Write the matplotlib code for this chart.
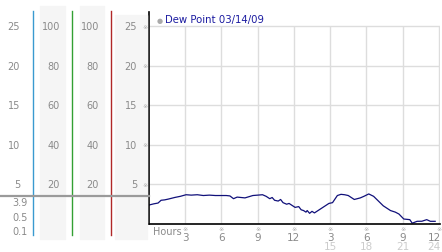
import matplotlib
matplotlib.use("Agg")
import matplotlib.pyplot as plt
import matplotlib.transforms as mtransforms
from matplotlib.patches import Rectangle

plt.rcParams["font.family"] = ["DejaVu Sans", "Noto Sans CJK JP"]

# Dew point readings (hour of day, value)
hours = [0.0, 0.4, 0.75, 1.0, 1.3, 1.6, 2.15, 2.6, 3.07, 3.5, 4.0, 4.5, 5.0, 5.5,
         6.0, 6.4, 6.7, 7.0, 7.3, 7.95, 8.6, 9.0, 9.4, 9.7, 10.0, 10.2, 10.4,
         10.7, 10.9, 11.1, 11.4, 11.6, 11.9, 12.1, 12.4, 12.6, 12.8, 13.0,
         13.1, 13.3, 13.5, 13.7, 13.9, 14.2, 14.6, 14.9, 15.2, 15.6, 15.9,
         16.2, 16.5, 17.0, 17.5, 17.8, 18.2, 18.6, 19.0, 19.4, 20.0, 20.4,
         20.7, 21.1, 21.6, 21.8, 22.2, 22.6, 23.0, 23.3, 23.7]
dew_point = [2.4, 2.55, 2.65, 3.0, 3.05, 3.15, 3.36, 3.5, 3.7, 3.65, 3.7, 3.6,
             3.65, 3.6, 3.6, 3.6, 3.55, 3.2, 3.4, 3.3, 3.6, 3.65, 3.7, 3.5,
             3.2, 3.35, 3.0, 2.9, 3.1, 2.7, 2.5, 2.6, 2.3, 2.1, 2.2, 1.8, 1.7,
             1.5, 1.7, 1.35, 1.6, 1.4, 1.6, 1.9, 2.3, 2.6, 2.7, 3.6, 3.75, 3.7,
             3.6, 3.1, 3.3, 3.5, 3.8, 3.5, 2.9, 2.3, 1.7, 1.5, 1.26, 0.63,
             0.55, 0.1, 0.34, 0.35, 0.55, 0.34, 0.34]

left_scales = [
    # (labels, right edge px)
    (["25", "20", "15", "10", "5"], 20),
    (["100", "80", "60", "40", "20"], 60),
    (["100", "80", "60", "40", "20"], 99),
    (["25", "20", "15", "10", "5"], 137),
]
extra_labels = ["3.9", "0.5", "0.1"]
y_ticks = [25, 20, 15, 10, 5]
x_ticks = [3, 6, 9, 12, 15, 18, 21, 24]
x_top_labels = ["3", "6", "9", "12", "3", "6", "9", "12"]
x_bottom_labels = ["", "", "", "", "15", "18", "21", "24"]

W, H = 442, 253
fig = plt.figure(figsize=(W / 100, H / 100), dpi=100)


def fx(x):
    return x / W


def fy(y):
    return 1 - y / H


# left side strips and dividers
for x0, x1, y0 in [(40, 65, 7), (80, 104, 7), (115, 147, 16)]:
    fig.patches.append(Rectangle((fx(x0), fy(240)), fx(x1) - fx(x0), fy(y0) - fy(240),
                                 transform=fig.transFigure, color="#f5f5f5", zorder=0))
for x, c in [(33, "#3a9ad0"), (72, "#33a033"), (111, "#b02828")]:
    fig.add_artist(plt.Line2D([fx(x), fx(x)], [fy(236), fy(12)], color=c, lw=1,
                              transform=fig.transFigure))
fig.add_artist(plt.Line2D([0, fx(149)], [fy(197), fy(197)], color="#9a9a9a", lw=1.6,
                          transform=fig.transFigure))

# main plot
ax = fig.add_axes([fx(149), fy(225), fx(440) - fx(149), fy(13) - fy(225)])
ax.set_xlim(0, 24.1)
ax.set_ylim(0, 26.8)
for v in y_ticks:
    ax.hlines(v, 0, 24.1, color="#dddddd", lw=1, zorder=0)
for h in x_ticks:
    ax.vlines(h, 0, 25, color="#dddddd", lw=1, zorder=0)
ax.plot(hours, dew_point, color="#10107a", lw=0.9)
for s in ["top", "right"]:
    ax.spines[s].set_visible(False)
ax.spines["left"].set_linewidth(1.2)
ax.spines["bottom"].set_linewidth(1.2)
ax.set_xticks([])
ax.set_yticks([])

gray = "#8a8a8a"
# left labels positioned on main y scale
ytrans = mtransforms.blended_transform_factory(fig.transFigure, ax.transData)
for labels, xr in left_scales:
    for lab, v in zip(labels, y_ticks):
        fig.text(fx(xr), v, lab, transform=ytrans, ha="right", va="center",
                 fontsize=7, color=gray)
for lab, yp in zip(extra_labels, [203, 218, 232]):
    fig.text(fx(28), fy(yp), lab, ha="right", va="center", fontsize=7, color=gray)
for v in y_ticks:
    fig.text(fx(145), v, "※", transform=ytrans, ha="center", va="center",
             fontsize=4.5, color="#aaaaaa")

# x labels
xtrans = mtransforms.blended_transform_factory(ax.transData, fig.transFigure)
fig.text(fx(153), fy(232), "Hours", ha="left", va="center", fontsize=7, color=gray)
for h, t1, t2 in zip(x_ticks, x_top_labels, x_bottom_labels):
    last = h == x_ticks[-1]
    ha = "right" if last else "center"
    tr = fig.transFigure if last else xtrans
    xpos = fx(441) if last else h
    ax.text(h, fy(230), "※", transform=xtrans, ha="center", va="center",
            fontsize=4.5, color="#aaaaaa")
    ax.text(xpos, fy(238.5), t1, transform=tr, ha=ha, va="center",
            fontsize=7.5, color=gray)
    if t2:
        ax.text(xpos, fy(247.5), t2, transform=tr, ha=ha, va="center",
                fontsize=7.5, color="#cccccc")

# legend
fig.text(fx(160), fy(20.5), "●", ha="center", va="center", fontsize=5, color="#aaaaaa")
fig.text(fx(165), fy(20.5), "Dew Point 03/14/09", ha="left", va="center",
         fontsize=7.3, color="#1a1aa0")

fig.savefig("out.png", dpi=100)
